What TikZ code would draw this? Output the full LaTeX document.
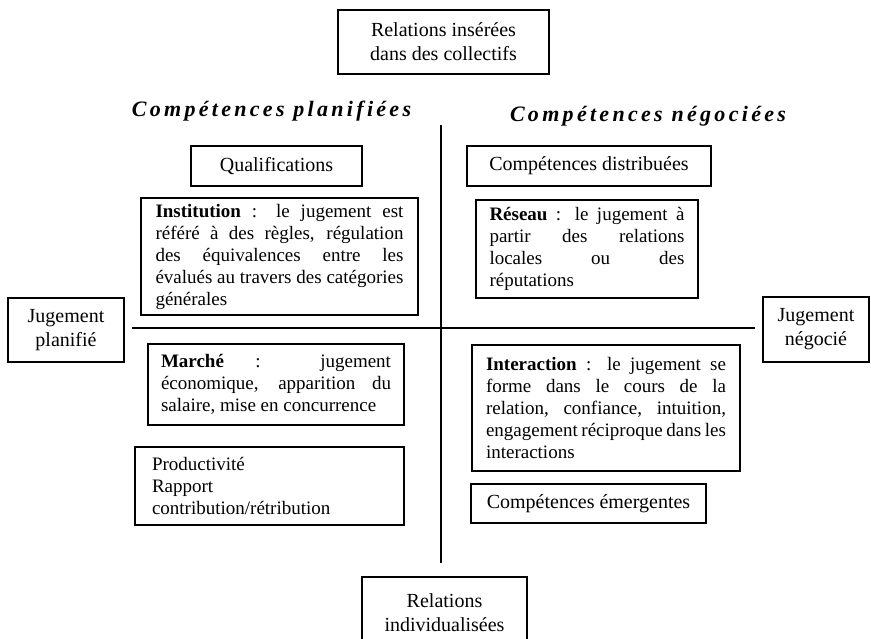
\documentclass[tikz,border=0pt]{standalone}
\usepackage{fontspec}
\setmainfont{Liberation Serif}
\newfontfamily\headfont[LetterSpace=15]{Liberation Serif}

\begin{document}
\begin{tikzpicture}[x=1pt,y=-1pt]
    %
    % `tag' is used for the short boxes (one or two centred lines).
    % `para' is used for the justified boxes of text.
    % `heading' is used for the two column titles.
    \tikzstyle{tag} = [draw,line width=1.1pt,align=center,inner sep=0pt,font=\fontsize{20}{24}\selectfont]
    \tikzstyle{para} = [draw,line width=1.1pt,align=justify,inner sep=0pt,font=\fontsize{19}{22}\selectfont]
    \tikzstyle{heading} = [inner sep=0pt,font=\headfont\bfseries\itshape\fontsize{22}{26}\selectfont]
    \tikzstyle{axis} = [line width=1.1pt]
    %
    \useasboundingbox (0,0) rectangle (871,638);
    %
    % Axes
    \coordinate (vtop) at (441,125);
    \coordinate (vbot) at (441,563);
    \coordinate (hleft) at (132,328);
    \coordinate (hright) at (755,328);
    \draw[axis] (vtop) -- (vbot);
    \draw[axis] (hleft) -- (hright);
    %
    % Ends of the axes
    \node[tag,minimum width=211,minimum height=64] (collectifs) at (443.5,42) {Relations insérées\\dans des collectifs};
    \node[tag,minimum width=165,minimum height=72] (individus) at (444.5,613) {Relations\\individualisées};
    \node[tag,minimum width=116,minimum height=64] (jplan) at (66,330) {Jugement\\planifié};
    \node[tag,minimum width=106,minimum height=65] (jnego) at (816,329.5) {Jugement\\négocié};
    %
    % Column titles
    \node[heading,anchor=base] (planif) at (271.5,116) {Compétences planifiées};
    \node[heading,anchor=base] (nego) at (648,121) {Compétences négociées};
    %
    % Left column
    \node[tag,minimum width=171,minimum height=40] (qualif) at (276.5,166) {Qualifications};
    \node[para,text width=248,minimum width=277,minimum height=117] (instit) at (279.5,256.5)
        {{\bfseries Institution}~: le jugement est\linebreak référé à des règles, régulation\linebreak des équivalences entre les\linebreak évalués au travers des catégories\linebreak générales};
    \node[para,text width=230,minimum width=256,minimum height=81] (marche) at (276,384.5)
        {{\bfseries Marché}~: jugement\linebreak économique, apparition du\linebreak salaire, mise en concurrence};
    \node[para,align=left,text width=235,minimum width=269,minimum height=78] (prod) at (269.5,486)
        {Productivité\\Rapport\\contribution/rétribution};
    %
    % Right column
    \node[tag,minimum width=244,minimum height=40] (distrib) at (589,166) {Compétences distribuées};
    \node[para,text width=195,minimum width=222,minimum height=98] (reseau) at (587,249)
        {{\bfseries Réseau}~: le jugement à\linebreak partir des relations\linebreak locales ou des\linebreak réputations};
    \node[para,text width=240,minimum width=268,minimum height=126] (interac) at (606,408)
        {{\bfseries Interaction}~: le jugement se\linebreak forme dans le cours de la\linebreak relation, confiance, intuition,\linebreak engagement réciproque dans les\linebreak interactions};
    \node[tag,minimum width=235,minimum height=39] (emerg) at (588.5,503.5) {Compétences émergentes};
    %
\end{tikzpicture}
\end{document}
